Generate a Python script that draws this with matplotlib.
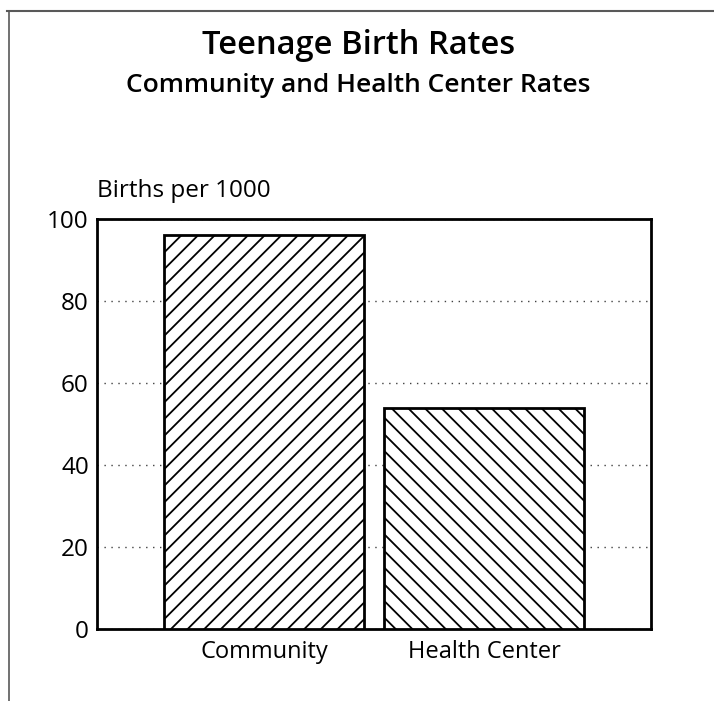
import matplotlib.pyplot as plt
from matplotlib.lines import Line2D

categories = ['Community', 'Health Center']
rates = [96, 54]
hatches = ['//', '\\\\']
yticks = [0, 20, 40, 60, 80, 100]

plt.rcParams['font.family'] = ['Open Sans', 'DejaVu Sans']
plt.rcParams['hatch.linewidth'] = 1.3

fig = plt.figure(figsize=(7.14, 7.01), dpi=100)
ax = fig.add_axes([0.136, 0.1027, 0.776, 0.585])

x = range(len(categories))
for xi, v, h in zip(x, rates, hatches):
    ax.bar(xi, v, width=0.91, color='white', edgecolor='black',
           linewidth=2, hatch=h, zorder=3)

ax.set_xlim(-0.76, 1.76)
ax.set_ylim(0, 100)
ax.set_yticks(yticks)
ax.set_xticks(list(x))
ax.set_xticklabels(categories, fontsize=17)
ax.tick_params(axis='y', length=0, labelsize=17.5, pad=6)
ax.tick_params(axis='x', length=0, pad=8)
for s in ax.spines.values():
    s.set_linewidth(2)
ax.yaxis.grid(True, linestyle=(0, (1, 4)), color='0.25', linewidth=1)
ax.set_axisbelow(True)

ax.text(0.0, 1.054, 'Births per 1000', transform=ax.transAxes,
        fontsize=17.5, ha='left', va='baseline')

fig.text(0.502, 0.935, 'Teenage Birth Rates', ha='center', va='center',
         fontsize=23.5, fontweight='semibold')
fig.text(0.502, 0.878, 'Community and Health Center Rates', ha='center',
         va='center', fontsize=19, fontweight='semibold')

# frame lines at top and left
fig.add_artist(Line2D([0.01, 1.0], [0.984, 0.984], color='0.35', linewidth=1.5))
fig.add_artist(Line2D([0.013, 0.013], [0.0, 0.984], color='0.35', linewidth=1.2))

fig.savefig('out.png', dpi=100)
